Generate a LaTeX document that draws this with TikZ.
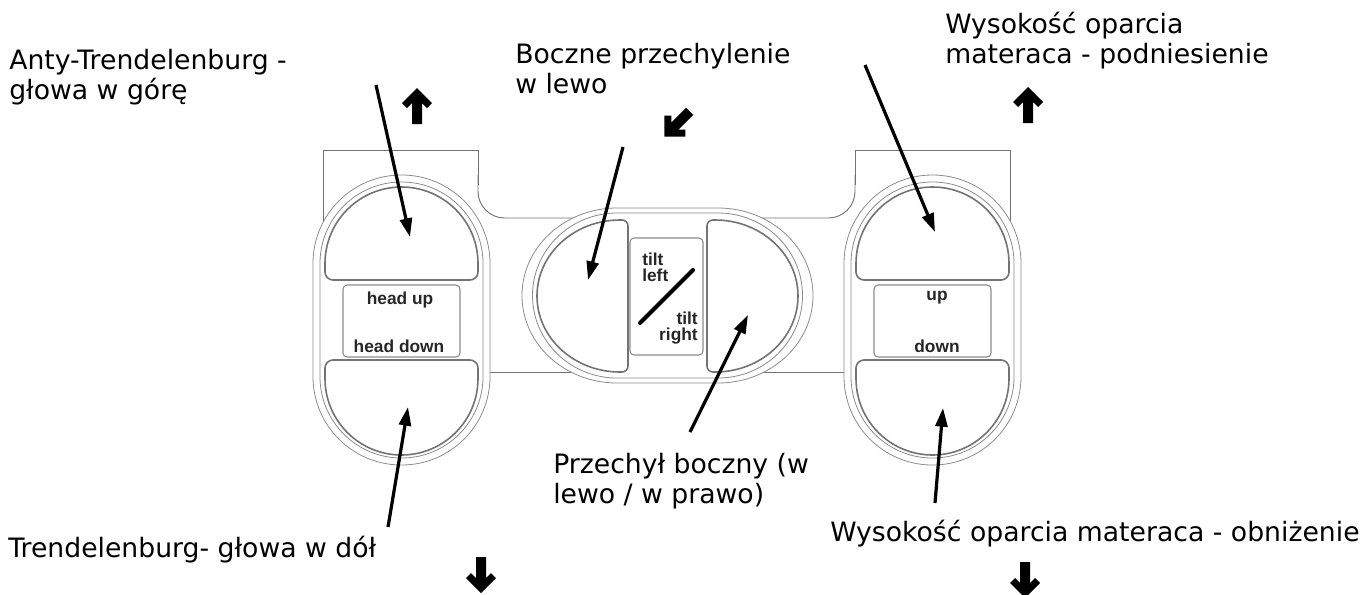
\documentclass[tikz,border=0pt]{standalone}
\usepackage{fontspec}
\setmainfont{DejaVu Sans}
\newfontfamily\panelfont{Liberation Sans}
\usetikzlibrary{arrows.meta}

\tikzset{
  bodyline/.style={draw=black!55, line width=0.7pt},
  shell/.style={draw=black!45, line width=0.6pt, fill=white},
  btn/.style={draw=black!55, line width=1.2pt, fill=white},
  tag/.style={draw=black!45, line width=0.8pt, rounded corners=3pt, fill=white},
  keytext/.style={font=\panelfont\bfseries\fontsize{13}{11.5}\selectfont, text=black!85, inner sep=0pt},
  callout/.style={font=\fontsize{20}{22.5}\selectfont, align=left, inner sep=0pt, anchor=base west},
  pointer/.style={line width=2.4pt, -{Triangle[length=14pt,width=9pt]}},
  blockarrow/.pic={
    \fill[black] (0,-18) -- (15,-3) -- (10,2) -- (5,-3) -- (5,18) -- (-5,18)
      -- (-5,-3) -- (-10,2) -- (-15,-3) -- cycle;
  },
  capsule/.pic={
    \draw[shell, rounded corners=66.3pt] (-88.5,-145) rectangle (88.5,145);
    \draw[shell, rounded corners=61pt] (-81.5,-138) rectangle (81.5,138);
    \draw[btn] (-76.5,-56.5) arc[start angle=180, end angle=360, radius=76.5]
      -- (76.5,-48) arc[start angle=0, end angle=90, radius=8]
      -- (-68.5,-40) arc[start angle=90, end angle=180, radius=8] -- cycle;
    \draw[btn] (-76.5,58.5) -- (-76.5,48) arc[start angle=180, end angle=270, radius=8]
      -- (68.5,40) arc[start angle=270, end angle=360, radius=8]
      -- (76.5,58.5) arc[start angle=0, end angle=180, radius=76.5] -- cycle;
    \draw[tag] (-58.5,-35) rectangle (58.5,37);
  }
}

\begin{document}
\begin{tikzpicture}[x=0.75pt, y=-0.75pt]
\useasboundingbox (0,0) rectangle (1367,594);

% housing outline
\draw[bodyline] (323,222) -- (323,150) -- (478,150) -- (478,185);
\draw[bodyline, rounded corners=20pt] (478,175) -- (478,218) -- (855,218) -- (855,175);
\draw[bodyline] (855,185) -- (855,150) -- (1010,150) -- (1010,222);
\draw[bodyline] (470,372) -- (860,372);

% side key pads
\pic at (401.5,320) {capsule};
\pic at (932.5,320) {capsule};

% middle tilt pad
\draw[shell] (617,208) -- (718,208)
  arc[start angle=270, end angle=450, x radius=95, y radius=87.5]
  -- (617,383) arc[start angle=90, end angle=270, x radius=95, y radius=87.5] -- cycle;
\draw[shell] (617,213) -- (718,213)
  arc[start angle=270, end angle=450, x radius=84.5, y radius=82.5]
  -- (617,378) arc[start angle=90, end angle=270, x radius=84.5, y radius=82.5] -- cycle;
\draw[btn] (620,220) arc[start angle=270, end angle=90, x radius=83, y radius=76]
  -- (622,372) arc[start angle=90, end angle=0, radius=6]
  -- (628,226) arc[start angle=0, end angle=-90, radius=6] -- cycle;
\draw[btn] (715,220) arc[start angle=-90, end angle=90, x radius=83, y radius=76]
  -- (713,372) arc[start angle=90, end angle=180, radius=6]
  -- (707,226) arc[start angle=180, end angle=270, radius=6] -- cycle;
\draw[tag] (630,238) rectangle (703,355);
\draw[line width=3pt, line cap=round] (640,323) -- (693,270);

% key legends (multi-line nodes sit on the baseline of their last line)
\node[keytext, anchor=base] (hu) at (400,304) {head up};
\node[keytext, anchor=base] (hd) at (399,352) {head down};
\node[keytext, anchor=base] (uu) at (937,300) {up};
\node[keytext, anchor=base] (dd) at (937,352) {down};
\node[keytext, anchor=base west, align=left] (tl) at (642,281) {tilt\\left};
\node[keytext, anchor=base east, align=right] (tr) at (698,340) {tilt\\right};

% callout texts
\node[callout] (c1) at (9,99) {Anty-Trendelenburg -\\głowa w górę};
\node[callout] (c2) at (515,93) {Boczne przechylenie\\w lewo};
\node[callout] (c3) at (945,63) {Wysokość oparcia\\materaca - podniesienie};
\node[callout] (c4) at (553,503) {Przechył boczny (w\\lewo / w prawo)};
\node[callout] (c5) at (8,557) {Trendelenburg- głowa w dół};
\node[callout] (c6) at (830,541) {Wysokość oparcia materaca - obniżenie};

% pointer ends
\coordinate (p1s) at (376,85);   \coordinate (p1e) at (410,237);
\coordinate (p2s) at (388,527);  \coordinate (p2e) at (408,407);
\coordinate (p3s) at (623,147);  \coordinate (p3e) at (588,280);
\coordinate (p4s) at (690,432);  \coordinate (p4e) at (748,315);
\coordinate (p5s) at (865,65);   \coordinate (p5e) at (935,232);
\coordinate (p6s) at (935,503);  \coordinate (p6e) at (943,408);

\draw[pointer] (p1s) -- (p1e);
\draw[pointer] (p2s) -- (p2e);
\draw[pointer] (p3s) -- (p3e);
\draw[pointer] (p4s) -- (p4e);
\draw[pointer] (p5s) -- (p5e);
\draw[pointer] (p6s) -- (p6e);

% direction symbols
\pic at (417,106) {blockarrow};
\pic at (1028,105) {blockarrow};
\pic[rotate=135] at (677,124) {blockarrow};
\pic[rotate=180] at (481,575) {blockarrow};
\pic[rotate=180] at (1025,580) {blockarrow};
\end{tikzpicture}
\end{document}
